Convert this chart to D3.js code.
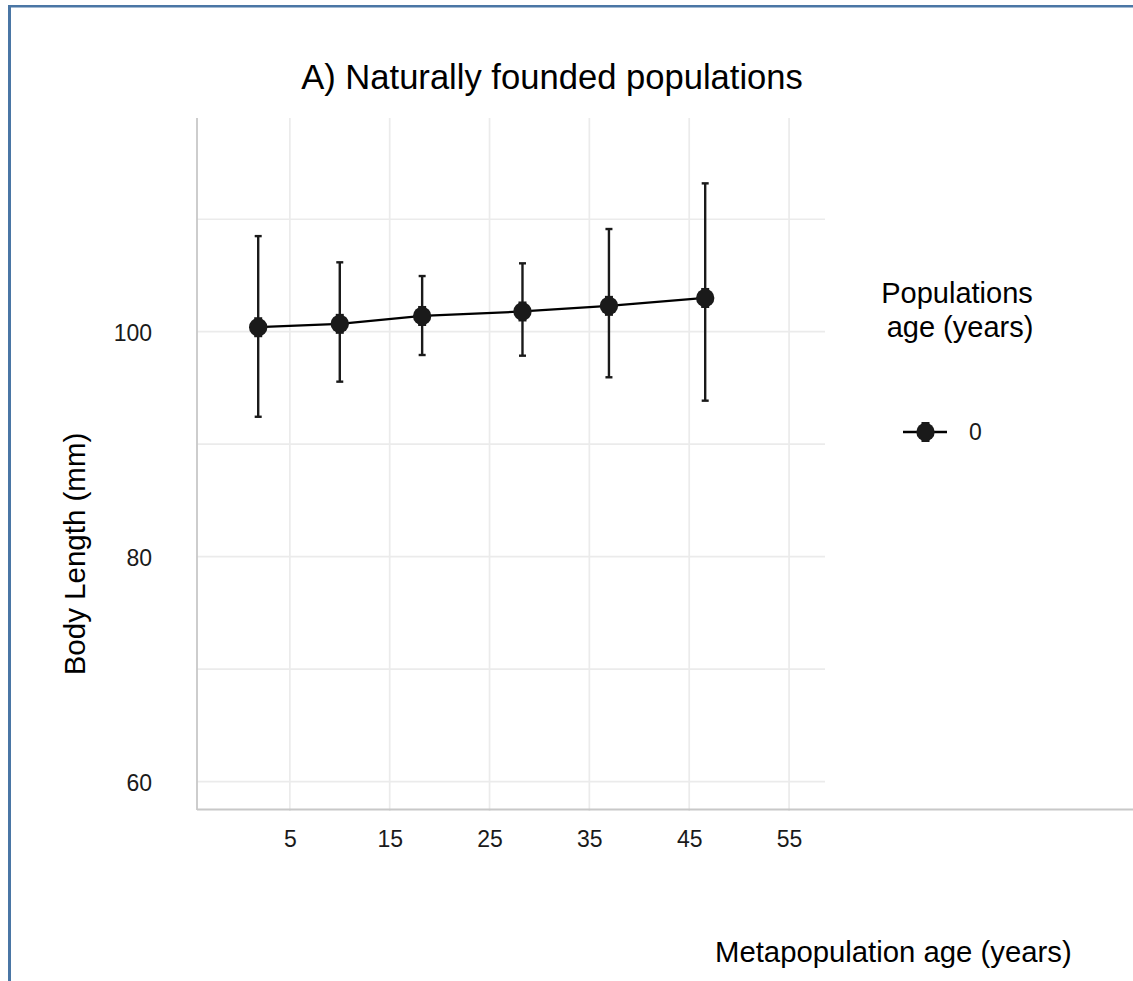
<!DOCTYPE html>
<html>
<head>
<meta charset="utf-8">
<script src="https://cdn.jsdelivr.net/npm/d3@7"></script>
<style>
  body { margin: 0; background: #fff; }
  svg { display: block; font-family: 'Liberation Sans', Arial, sans-serif; }
</style>
</head>
<body>
<div id="chart"></div>
<script>
const metaAge = [1.83, 10.0, 18.25, 28.3, 36.96, 46.6];
const meanLength = [100.4, 100.7, 101.4, 101.8, 102.3, 103.0];
const lowerLength = [92.44, 95.56, 97.93, 97.87, 95.95, 93.87];
const upperLength = [108.5, 106.17, 104.95, 106.08, 109.13, 113.19];

const xTicks = [5, 15, 25, 35, 45, 55];
const yTicks = [60, 80, 100];
const yGrid = [60, 70, 80, 90, 100, 110];
const legendLabels = ['0'];

(function() {
  const width = 1133;
  const height = 981;
  const panel = { left: 197, right: 825, top: 118, bottom: 809 };

  const data = metaAge.map((age, i) => ({
    age: age,
    mean: meanLength[i],
    lo: lowerLength[i],
    hi: upperLength[i]
  }));

  const svg = d3.select('#chart').append('svg')
    .attr('width', width)
    .attr('height', height);

  // page frame (top + left edge only)
  svg.append('rect').attr('x', 8).attr('y', 5).attr('width', width - 8).attr('height', 2.5).attr('fill', '#4a76a5');
  svg.append('rect').attr('x', 8).attr('y', 5).attr('width', 3).attr('height', height - 5).attr('fill', '#4a76a5');

  const x = d3.scaleLinear().domain([-4.3, 58.6]).range([panel.left, panel.right]);
  const y = d3.scaleLinear().domain([57.57, 119]).range([panel.bottom, panel.top]);

  // grid
  const grid = svg.append('g');
  grid.selectAll('.hgrid').data(yGrid).enter()
    .append('line')
    .attr('x1', panel.left).attr('x2', panel.right)
    .attr('y1', d => y(d)).attr('y2', d => y(d))
    .attr('stroke', '#ebebeb').attr('stroke-width', 1.7);
  grid.selectAll('.vgrid').data(xTicks).enter()
    .append('line')
    .attr('x1', d => x(d)).attr('x2', d => x(d))
    .attr('y1', panel.top).attr('y2', panel.bottom + 2)
    .attr('stroke', '#ebebeb').attr('stroke-width', 1.7);

  // axis lines
  svg.append('line')
    .attr('x1', panel.left).attr('x2', panel.left)
    .attr('y1', panel.top).attr('y2', panel.bottom + 1)
    .attr('stroke', '#c8c8c8').attr('stroke-width', 1.8);
  svg.append('line')
    .attr('x1', panel.left).attr('x2', width)
    .attr('y1', panel.bottom + 0.5).attr('y2', panel.bottom + 0.5)
    .attr('stroke', '#c8c8c8').attr('stroke-width', 1.8);

  // tick labels via d3 axes, lines hidden
  const yAxis = svg.append('g')
    .attr('transform', `translate(${panel.left - 45},0)`)
    .call(d3.axisLeft(y).tickValues(yTicks).tickSize(0).tickPadding(0));
  const xAxis = svg.append('g')
    .attr('transform', `translate(0,${panel.bottom + 22})`)
    .call(d3.axisBottom(x).tickValues(xTicks).tickSize(0).tickPadding(0));

  [yAxis, xAxis].forEach(g => {
    g.select('.domain').remove();
    g.selectAll('text')
      .attr('fill', '#1a1a1a')
      .style('font-size', '23px')
      .style('font-family', "'Liberation Sans', Arial, sans-serif");
  });
  yAxis.selectAll('text').attr('dy', '0.4em');
  xAxis.selectAll('text').attr('dy', '0.71em');

  // error bars
  const bars = svg.append('g');
  bars.selectAll('.err').data(data).enter()
    .append('line')
    .attr('x1', d => x(d.age)).attr('x2', d => x(d.age))
    .attr('y1', d => y(d.lo)).attr('y2', d => y(d.hi))
    .attr('stroke', '#1a1a1a').attr('stroke-width', 2.4);
  ['lo', 'hi'].forEach(k => {
    bars.selectAll('.cap-' + k).data(data).enter()
      .append('line')
      .attr('x1', d => x(d.age) - 3.5).attr('x2', d => x(d.age) + 3.5)
      .attr('y1', d => y(d[k])).attr('y2', d => y(d[k]))
      .attr('stroke', '#1a1a1a').attr('stroke-width', 2.4);
  });

  // mean line
  const line = d3.line().x(d => x(d.age)).y(d => y(d.mean));
  svg.append('path')
    .datum(data)
    .attr('d', line)
    .attr('fill', 'none')
    .attr('stroke', '#000')
    .attr('stroke-width', 2.3);

  function drawMarker(g, cx, cy) {
    g.append('rect')
      .attr('x', cx - 4).attr('y', cy - 10)
      .attr('width', 8).attr('height', 20)
      .attr('fill', '#1a1a1a');
    g.append('circle')
      .attr('cx', cx).attr('cy', cy).attr('r', 9.2)
      .attr('fill', '#1a1a1a');
  }

  const marks = svg.append('g');
  data.forEach(d => drawMarker(marks, x(d.age), y(d.mean)));

  // titles
  svg.append('text')
    .attr('x', 552).attr('y', 89)
    .attr('text-anchor', 'middle')
    .style('font-size', '34.6px')
    .attr('fill', '#000')
    .text('A) Naturally founded populations');

  svg.append('text')
    .attr('transform', 'translate(85,554) rotate(-90)')
    .attr('text-anchor', 'middle')
    .style('font-size', '29.5px')
    .attr('fill', '#000')
    .text('Body Length (mm)');

  svg.append('text')
    .attr('x', 715).attr('y', 962)
    .style('font-size', '29.3px')
    .attr('fill', '#000')
    .text('Metapopulation age (years)');

  // legend
  const legend = svg.append('g');
  legend.append('text')
    .attr('x', 957).attr('y', 303)
    .attr('text-anchor', 'middle')
    .style('font-size', '29px')
    .text('Populations');
  legend.append('text')
    .attr('x', 960).attr('y', 337)
    .attr('text-anchor', 'middle')
    .style('font-size', '29px')
    .text('age (years)');

  legendLabels.forEach((lab, i) => {
    const ky = 432 + i * 40;
    legend.append('line')
      .attr('x1', 903).attr('x2', 947)
      .attr('y1', ky).attr('y2', ky)
      .attr('stroke', '#000').attr('stroke-width', 2.3);
    drawMarker(legend, 925.5, ky);
    legend.append('text')
      .attr('x', 969).attr('y', ky)
      .attr('dy', '0.36em')
      .style('font-size', '23px')
      .attr('fill', '#1a1a1a')
      .text(lab);
  });
}())
</script>
</body>
</html>
